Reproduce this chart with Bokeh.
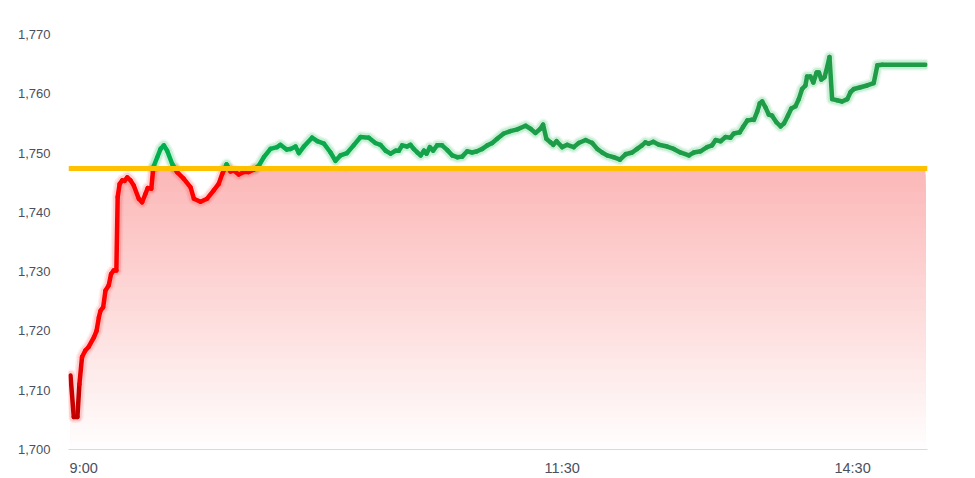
import numpy as np
from bokeh.plotting import figure
from bokeh.models import Range1d, FixedTicker, NumeralTickFormatter, Span
from bokeh.embed import file_html
from bokeh.resources import INLINE

# ---------------- data ----------------
PREV_CLOSE = 1747.4
T = [0, 1.0, 2.1, 2.7, 3.5, 4.5, 5.5, 7.1, 7.9, 8.6, 9.1, 9.9, 10.6, 11.6, 12.3, 13.1, 13.9,
     14.3, 14.9, 15.7, 16.4, 17.2, 18.2, 19.2, 20.7, 21.7, 22.7, 23.4, 24.5, 25.1, 26.3, 27.3,
     28.3, 29.3, 30.8, 32.3, 34.3, 36.4, 37.4, 39.4, 41.4, 43.4, 44.9, 46.0, 47.3, 48.5, 49.5,
     51.0, 52.5, 54.0, 55.5, 57.1, 58.6, 60.6, 62.6, 63.6, 65.5, 66.7, 68.2, 69.2, 70.7, 73.2,
     74.8, 76.8, 78.8, 80.3, 81.8, 83.8, 85.8, 87.9, 90.4, 92.4, 93.9, 95.5, 97.0, 98.5, 99.5,
     100.5, 102.0, 103.0, 104.0, 105.1, 106.1, 107.1, 107.9, 108.9, 109.9, 111.1, 112.6, 114.2,
     115.7, 117.2, 118.7, 120.2, 121.7, 123.2, 124.8, 126.3, 127.8, 129.3, 131.3, 133.3, 135.4,
     137.9, 139.4, 140.9, 142.4, 143.2, 144.2, 145.5, 146.3, 147.3, 149.0, 150.5, 152.5, 154.0,
     156.1, 158.1, 159.6, 161.1, 162.6, 164.6, 166.5, 168.2, 170.2, 171.7, 173.2, 174.2, 175.2,
     176.6, 178.3, 180.8, 182.8, 184.8, 187.4, 188.9, 190.9, 192.9, 194.4, 195.5, 197.0, 198.5,
     200.0, 201.0, 202.8, 203.8, 205.1, 206.3, 207.1, 208.1, 208.9, 209.6, 210.6, 211.6, 212.6,
     213.9, 215.2, 216.2, 217.4, 218.4, 219.7, 220.7, 221.7, 222.7, 223.2, 224.2, 225.1, 226.1,
     226.8, 227.5, 228.5, 229.3, 230.0, 230.8, 232.3, 233.8, 235.4, 236.4, 237.4, 239.4, 241.4,
     243.4, 244.5, 246.0, 259.1]
PRICE = [1712.5, 1705.5, 1705.5, 1711.0, 1715.6, 1716.7, 1717.3, 1718.9, 1720.0, 1722.3, 1723.4,
         1724.0, 1726.8, 1727.7, 1729.6, 1730.2, 1730.2, 1742.6, 1744.8, 1745.4, 1745.3, 1745.9,
         1745.4, 1744.5, 1742.3, 1741.7, 1743.1, 1744.1, 1744.0, 1747.6, 1749.3, 1750.7, 1751.3,
         1750.4, 1748.2, 1746.8, 1745.7, 1744.2, 1742.3, 1741.8, 1742.3, 1743.7, 1744.8, 1746.5,
         1748.1, 1746.9, 1747.05, 1746.4, 1746.8, 1746.8, 1747.2, 1747.9, 1749.3, 1750.7, 1751.0,
         1751.4, 1750.6, 1750.7, 1751.1, 1750.0, 1751.1, 1752.6, 1752.0, 1751.6, 1750.1, 1748.7,
         1749.6, 1750.0, 1751.3, 1752.7, 1752.6, 1751.7, 1751.4, 1750.4, 1749.9, 1750.4, 1750.4,
         1751.3, 1751.1, 1751.4, 1750.7, 1750.1, 1749.6, 1750.4, 1749.9, 1751.0, 1750.4, 1751.3,
         1751.3, 1750.5, 1749.6, 1749.3, 1749.4, 1750.3, 1750.1, 1750.3, 1750.7, 1751.3, 1751.7,
         1752.4, 1753.3, 1753.7, 1754.0, 1754.6, 1754.1, 1753.4, 1754.1, 1754.8, 1752.4, 1751.8,
         1751.4, 1752.0, 1751.0, 1751.4, 1751.0, 1751.7, 1752.2, 1751.7, 1750.7, 1750.1, 1749.6,
         1749.3, 1748.9, 1749.8, 1750.1, 1750.7, 1751.3, 1751.8, 1751.6, 1751.9, 1751.4, 1751.1,
         1750.7, 1750.1, 1749.6, 1750.1, 1750.3, 1751.0, 1751.3, 1752.2, 1752.0, 1752.7, 1752.6,
         1753.3, 1753.5, 1754.4, 1755.5, 1755.6, 1755.6, 1757.0, 1758.4, 1758.7, 1757.7, 1756.5,
         1756.3, 1755.2, 1754.5, 1755.0, 1756.3, 1757.5, 1757.9, 1759.1, 1760.8, 1761.4, 1762.9,
         1762.9, 1761.9, 1763.6, 1763.6, 1762.4, 1762.8, 1764.5, 1766.2, 1759.1, 1758.9, 1758.7,
         1759.1, 1760.3, 1760.8, 1761.1, 1761.4, 1761.8, 1764.8, 1764.9, 1764.9]
Y_TICKS = [1700, 1710, 1720, 1730, 1740, 1750, 1760, 1770]
X_TICK_POS = [4, 149, 237]
X_TICK_LABELS = ["9:00", "11:30", "14:30"]

# ---------------- helpers ----------------
def hex2rgb(h):
    h = h.lstrip("#")
    return tuple(int(h[i:i + 2], 16) for i in (0, 2, 4))

def lerp(c0, c1, t):
    a, b = hex2rgb(c0), hex2rgb(c1)
    t = max(0.0, min(1.0, t))
    return "#%02x%02x%02x" % tuple(int(round(a[i] + (b[i] - a[i]) * t)) for i in range(3))

base = PREV_CLOSE
xs, ys = [T[0]], [PRICE[0]]
for i in range(1, len(T)):
    y0, y1 = PRICE[i - 1], PRICE[i]
    if (y0 - base) * (y1 - base) < 0:
        f = (base - y0) / (y1 - y0)
        xs.append(T[i - 1] + f * (T[i] - T[i - 1]))
        ys.append(base)
    xs.append(T[i])
    ys.append(PRICE[i])
xs = np.array(xs)
ys = np.array(ys)

# ---------------- figure ----------------
p = figure(width=975, height=478, output_backend="svg", toolbar_location=None,
           x_range=Range1d(-0.6, 259.7), y_range=Range1d(1700, 1770),
           min_border_left=68, min_border_right=48, min_border_top=34, min_border_bottom=29)
p.outline_line_color = None
p.grid.visible = False
p.background_fill_color = "white"

# gradient fill under the line (clipped to the reference level)
grid_x = np.linspace(xs[0], xs[-1], 1400)
top = np.minimum(np.interp(grid_x, xs, ys), base)
levels = np.arange(base, 1700, -1.0)
for hi in levels:
    t = (base - hi) / (base - 1700)
    col = lerp("#fcb8b8", "#ffffff", t)
    p.varea(x=grid_x, y1=np.full_like(grid_x, 1700.0), y2=np.minimum(top, hi),
            fill_color=col, fill_alpha=1.0)

# glow
red_y = np.where(ys <= base + 1e-9, ys, np.nan)
green_y = np.where(ys >= base - 1e-9, ys, np.nan)
for w, a in [(12, 0.10), (9, 0.18)]:
    p.line(xs, red_y, line_color="#ff5050", line_width=w, line_alpha=a, line_join="round", line_cap="round")
    p.line(xs, green_y, line_color="#30c060", line_width=w, line_alpha=a, line_join="round", line_cap="round")

# main line, coloured per segment
x0, y0, x1, y1, cols = [], [], [], [], []
for i in range(len(xs) - 1):
    m = (ys[i] + ys[i + 1]) / 2
    if m < base:
        c = lerp("#c00000", "#ff0000", (m - 1708) / 8.0)
    else:
        c = lerp("#00b050", "#1f9c48", ((xs[i] + xs[i + 1]) / 2 - 30) / 120.0)
    x0.append(xs[i]); y0.append(ys[i]); x1.append(xs[i + 1]); y1.append(ys[i + 1]); cols.append(c)
p.segment(x0=x0, y0=y0, x1=x1, y1=y1, line_color=cols, line_width=4.5, line_cap="round")

# reference (previous close) line
p.add_layout(Span(location=base, dimension="width", line_color="#ffc000", line_width=5))

# axes
p.yaxis.ticker = FixedTicker(ticks=Y_TICKS)
p.yaxis.formatter = NumeralTickFormatter(format="0,0")
p.yaxis.axis_line_color = None
p.yaxis.major_tick_line_color = None
p.yaxis.minor_tick_line_color = None
p.yaxis.major_tick_in = 0
p.yaxis.major_tick_out = 0
p.yaxis.major_label_standoff = 18
p.yaxis.major_label_text_font = "Liberation Sans"
p.yaxis.major_label_text_font_size = "13px"
p.yaxis.major_label_text_color = "#4a5060"

p.xaxis.ticker = FixedTicker(ticks=X_TICK_POS)
p.xaxis.major_label_overrides = {pos: lab for pos, lab in zip(X_TICK_POS, X_TICK_LABELS)}
p.xaxis.axis_line_color = "#d9d9d9"
p.xaxis.major_tick_line_color = None
p.xaxis.minor_tick_line_color = None
p.xaxis.major_tick_in = 0
p.xaxis.major_tick_out = 0
p.xaxis.major_label_standoff = 10
p.xaxis.major_label_text_font = "Liberation Sans"
p.xaxis.major_label_text_font_size = "14.5px"
p.xaxis.major_label_text_color = "#4a5060"

open("out.html", "w").write(file_html(p, INLINE))
